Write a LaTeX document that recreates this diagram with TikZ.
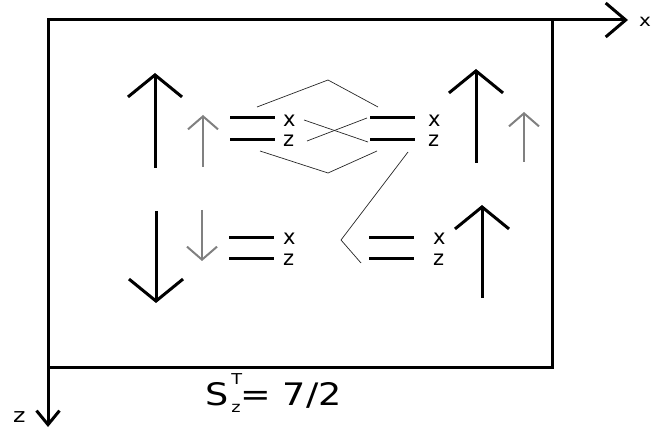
\documentclass[tikz,border=0pt]{standalone}
\usepackage{fontspec}
\setmainfont{DejaVu Sans}
\newfontfamily\widefont[FakeStretch=1.18]{DejaVu Sans}
\usetikzlibrary{arrows.meta}

\begin{document}
\begin{tikzpicture}[x=1pt, y=-1pt,
  frame/.style={line width=3pt},
  axis/.style={line width=3pt, -{Straight Barb[length=#1]}},
  spin/.style={line width=3pt, -{Straight Barb[length=22pt,width=54pt]}},
  minor/.style={line width=2pt, draw=black!50, -{Straight Barb[length=13pt,width=30pt]}},
  level/.style={line width=3pt},
  link/.style={line width=0.7pt, draw=black!85},
  lab/.style={font=\fontsize{21}{21}\selectfont, inner sep=0pt, anchor=base west}]

  \useasboundingbox (0,0) rectangle (651,430);

  % frame and axes
  \draw[frame] (48,20) rectangle (552,368);
  \draw[axis={20pt,width=34pt}] (48,20) -- (628,20);
  \draw[axis={14pt,width=23pt}] (48,368) -- (48,427);
  \node[lab, font=\widefont\fontsize{17}{17}\selectfont] (xaxis) at (639,27) {x};
  \node[lab, font=\widefont\fontsize{20}{20}\selectfont] (zaxis) at (13,423) {z};

  % spins
  \draw[spin] (155,168) -- (155,73);
  \draw[spin] (156,211) -- (156,303);
  \draw[spin] (476,163) -- (476,69);
  \draw[spin] (482,298) -- (482,205);
  \draw[minor] (203,167) -- (203,115);
  \draw[minor] (202,210) -- (202,261);
  \draw[minor] (524,162) -- (524,112);

  % levels: line start, y of x and z, label x, baseline of x and z, name
  \foreach \lx/\ya/\yb/\tx/\ba/\bb/\n in {
      230/118/140/283/127/147/ul, 370/118/140/428/127/147/ur,
      229/238/259/283/245/266/ll, 369/238/259/433/245/266/lr} {
    \draw[level] (\lx,\ya) -- ++(45,0);
    \draw[level] (\lx,\yb) -- ++(45,0);
    \node[lab] (\n x) at (\tx,\ba) {x};
    \node[lab] (\n z) at (\tx,\bb) {z};
  }

  % links
  \coordinate (top) at (328,80);
  \coordinate (bot) at (328,173);
  \coordinate (bend) at (341,240);
  \draw[link] (257,107) -- (top) -- (378,107);
  \draw[link] (304,120) -- (368,142);
  \draw[link] (307,141) -- (367,118);
  \draw[link] (260,151) -- (bot) -- (377,151);
  \draw[link] (408,152) -- (bend) -- (361,263);

  \node[lab, font=\widefont\fontsize{31}{31}\selectfont] (stot) at (205,406)
    {S\kern3pt\rlap{\raisebox{21pt}{\fontsize{15}{15}\selectfont T}}%
     \raisebox{-7pt}{\fontsize{15}{15}\selectfont z}= 7/2};
\end{tikzpicture}
\end{document}
